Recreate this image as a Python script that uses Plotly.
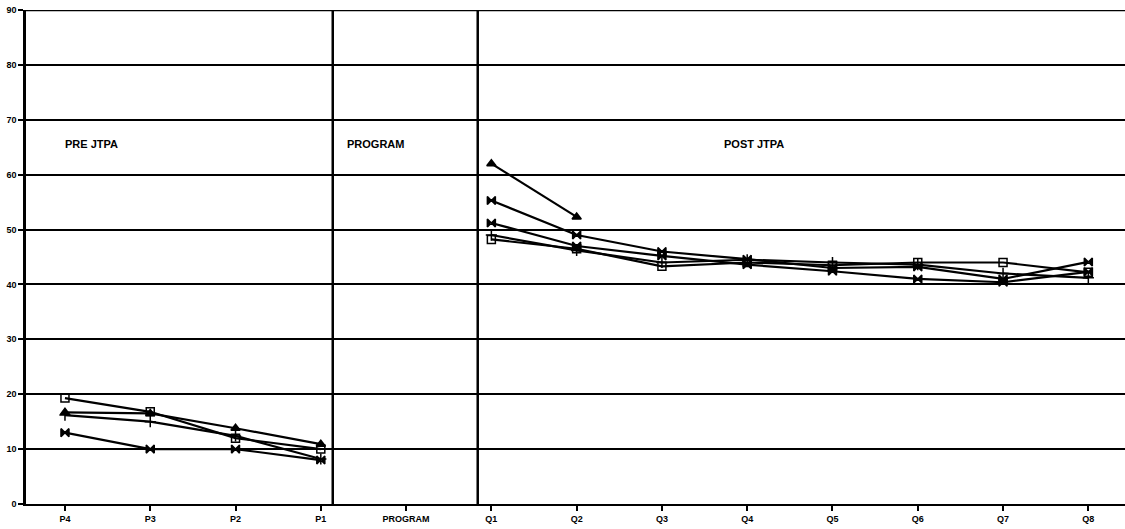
import plotly.graph_objects as go

# categories along the bottom axis
periods = ['P4', 'P3', 'P2', 'P1', 'PROGRAM', 'Q1', 'Q2', 'Q3', 'Q4', 'Q5', 'Q6', 'Q7', 'Q8']

# values (None = no point)
square_vals = [19.3, 16.8, 12.0, 10.0, None, 48.2, 46.5, 43.3, 44.0, 43.5, 44.0, 44.0, 42.2]
triangle_vals = [16.7, 16.5, 13.8, 10.9, None, 62.0, 52.3, None, None, None, None, None, None]
bowtie_vals = [13.0, 10.0, 10.0, 8.0, None, 55.3, 49.0, 46.0, 44.6, 43.0, 43.2, 41.0, 44.1]
bowtie2_vals = [None, None, None, None, None, 51.2, 47.0, 45.2, 43.6, 42.4, 41.0, 40.4, 42.3]
plus_vals = [16.2, 15.0, 12.4, 8.2, None, 49.0, 46.2, 44.0, 44.5, 44.0, 43.6, 42.0, 41.2]

series = [
    ('Square', square_vals, 'square-open'),
    ('Triangle', triangle_vals, 'triangle-up'),
    ('Bowtie', bowtie_vals, 'bowtie'),
    ('Bowtie 2', bowtie2_vals, 'bowtie'),
    ('Plus', plus_vals, 'cross-thin-open'),
]

section_labels = ['PRE JTPA', 'PROGRAM', 'POST JTPA']
section_x = [-0.02, 3.28, 7.7]

fig = go.Figure()
for name, vals, sym in series:
    fig.add_trace(go.Scatter(
        x=periods, y=vals, name=name, mode='lines+markers',
        line=dict(color='black', width=2.2),
        marker=dict(symbol=sym, size=8, color='black',
                    line=dict(color='black', width=1.5)),
        connectgaps=False,
    ))

# vertical separators around the program period
for xv in [3.14, 4.84]:
    fig.add_shape(type='line', xref='x', yref='y', x0=xv, x1=xv, y0=0, y1=90,
                  line=dict(color='black', width=2.5))
# top border at 90
fig.add_shape(type='line', xref='paper', yref='y', x0=0, x1=1, y0=90, y1=90,
              line=dict(color='black', width=2.5))

for txt, xv in zip(section_labels, section_x):
    fig.add_annotation(x=xv, y=65.5, text='<b>' + txt + '</b>', showarrow=False,
                       xanchor='left', yanchor='middle',
                       font=dict(family='Liberation Sans', size=11, color='black'))

fig.update_layout(
    width=1125, height=529,
    margin=dict(l=26, r=0, t=10, b=25),
    plot_bgcolor='white', paper_bgcolor='white',
    showlegend=False,
    font=dict(family='Liberation Sans', color='black'),
)
fig.update_xaxes(
    type='category', range=[-0.457, 12.43],
    showgrid=False, zeroline=False,
    showline=True, linecolor='black', linewidth=2,
    ticks='outside', ticklen=5, tickwidth=1.5, tickcolor='black',
    tickfont=dict(family='Liberation Sans', size=9, color='black'),
    tickprefix='<b>', ticksuffix='</b>',
)
fig.update_yaxes(
    range=[0, 90], dtick=10,
    showgrid=True, gridcolor='black', gridwidth=2,
    zeroline=False,
    showline=True, linecolor='black', linewidth=2.5,
    ticks='outside', ticklen=5, tickwidth=1.5, tickcolor='black',
    tickfont=dict(family='Liberation Sans', size=9, color='black'),
    tickprefix='<b>', ticksuffix='</b>',
)

# drop the default body margin so the figure sits at the window's corner
fig.write_html("out.html", config={'displayModeBar': False},
               post_script="document.body.style.margin='0';")
